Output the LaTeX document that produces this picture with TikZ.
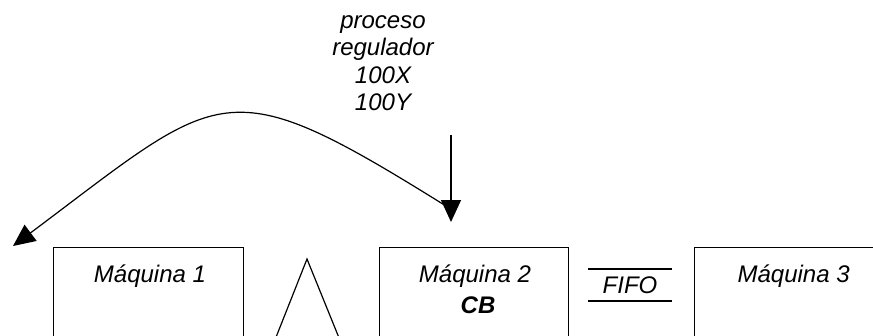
\documentclass[tikz,border=0pt]{standalone}
\usepackage{fontspec}
\setmainfont{Liberation Sans}
\usetikzlibrary{arrows.meta}
\begin{document}
\begin{tikzpicture}[x=1pt,y=-1pt,
  line width=1.2pt,
  lbl/.style={font=\fontsize{24}{27}\selectfont\itshape, inner sep=0pt, anchor=base},
  machine/.style={draw, line width=1.3pt, anchor=north west, minimum width=190pt, minimum height=120pt, inner sep=0pt},
  bigtip/.style={-{Triangle[width=20pt,length=22pt]}}
]
\useasboundingbox (0,0) rectangle (873,335);
\clip (0,0) rectangle (873,335);

% machines
\node[machine] (m1) at (53,247) {};
\node[machine, minimum width=189pt] (m2) at (379,247) {};
\node[machine] (m3) at (694,247) {};

\node[lbl] (t1) at (150,282) {Máquina 1};
\node[lbl] (t2) at (475,282) {Máquina 2};
\node[lbl, font=\fontsize{24}{27}\selectfont\bfseries\itshape] (cb) at (478,313) {CB};
\begin{scope}
  \clip (694,247) rectangle (851,335);
  \node[lbl, anchor=base west] (t3) at (737,282) {Máquina 3};
\end{scope}

% buffer triangle
\coordinate (apex) at (307,259);
\coordinate (tl) at (267,360);
\coordinate (tr) at (348,360);
\draw (tl) -- (apex) -- (tr);

% FIFO queue
\coordinate (fa) at (588,269);
\coordinate (fb) at (672,269);
\coordinate (fc) at (588,301);
\coordinate (fd) at (672,301);
\draw (fa) -- (fb);
\draw (fc) -- (fd);
\node[lbl] (fifo) at (630,293) {FIFO};

% regulating process
\node[lbl] (r1) at (383,28) {proceso};
\node[lbl] (r2) at (383,55) {regulador};
\node[lbl] (r3) at (383,83) {100X};
\node[lbl] (r4) at (383,110) {100Y};
\coordinate (vs) at (451,135);
\coordinate (ve) at (451,222);
\draw[bigtip] (vs) -- (ve);

% feedback curve
\coordinate (cs) at (446,206);
\coordinate (ce) at (13,246);
\draw[bigtip] (cs) .. controls (223,67) and (224,88) .. (ce);
\end{tikzpicture}
\end{document}
